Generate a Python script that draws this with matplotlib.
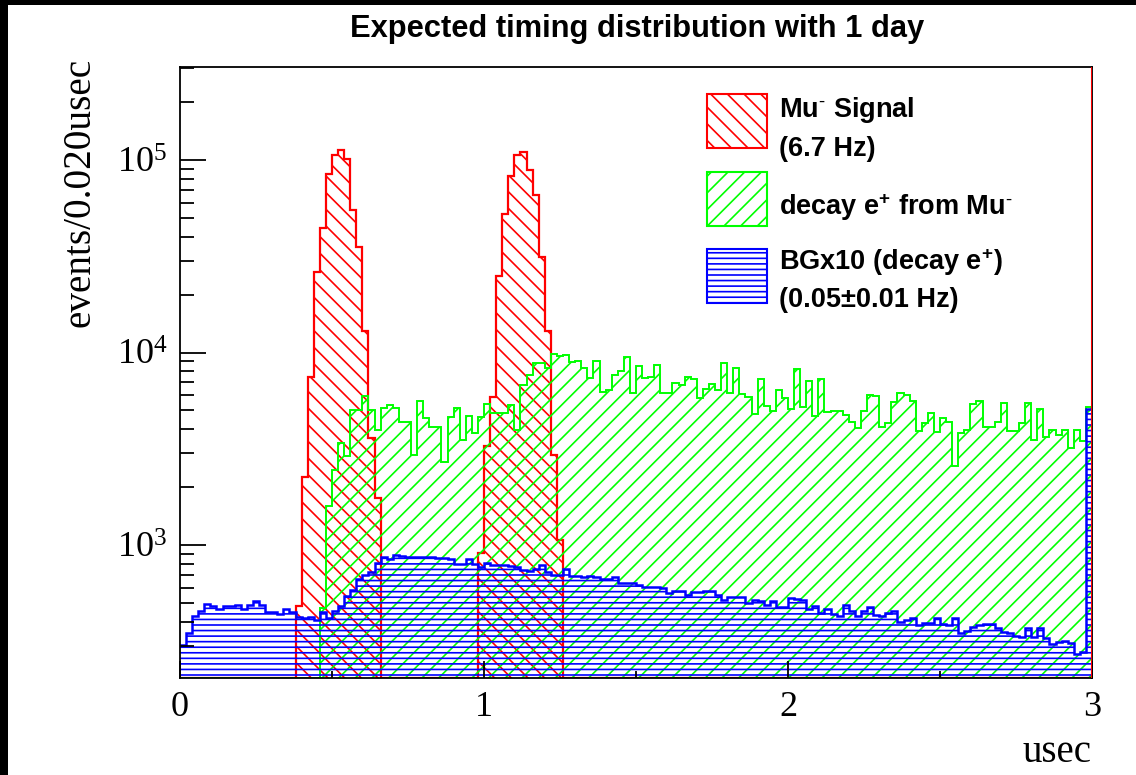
import numpy as np
import matplotlib
matplotlib.use('Agg')
import matplotlib.pyplot as plt
from matplotlib.patches import Rectangle
from matplotlib.ticker import FixedLocator, LogLocator, MultipleLocator, NullFormatter

# binning: 150 bins of 0.020 usec between 0 and 3 usec
BIN_WIDTH = 0.02
N_BINS = 150
edges = np.arange(N_BINS + 1) * BIN_WIDTH

# Mu- signal (red), two bunches
signal_peak1_start = 0.38
signal_peak1 = [480, 2265, 7430, 26300, 44500, 84300, 106000, 112700, 101000,
                55000, 35200, 12970, 3580, 1750]
signal_peak2_start = 0.98
signal_peak2 = [910, 3270, 5900, 24900, 52400, 82600, 106000, 110000, 88700,
                65800, 31200, 12970, 2935, 1060]

# decay e+ from Mu- (green), starts at 0.46 usec
decay_start = 0.46
decay_early = [470, 1600, 2450, 3400, 2900, 5000, 5000, 5950, 5000, 3960,
               5150, 5330, 5150, 4380, 4380, 2930, 5620, 4550, 4090, 4090,
               2710, 4610, 5150, 3510, 4700, 3800, 4600, 5400, 4870, 4870,
               4870, 5330, 3960, 6770, 7640, 8790, 8790, 8270, 9800, 9600,
               9700, 8970, 9000]
decay_mid = [8270, 7340, 9060, 6250, 6380, 7640, 8050, 9500, 6170, 8500,
             7340, 7430, 8610, 6170, 6130, 6970, 6770, 7430, 7250, 5780,
             6440, 6860, 6380, 8800, 6170, 8350, 6080, 5890, 4790, 7250,
             5270, 4980, 6380, 5780, 5120, 8200, 5240, 7100, 4680, 7250,
             4930, 4980]
decay_late = [4980, 4730, 4380, 4040, 4980, 6000, 5950, 4090, 4280, 5550,
              6130, 6000, 5620, 3920, 4280, 4870, 3880, 4550, 4380, 2570,
              3830, 3960, 5400, 5620, 4090, 4090, 4380, 5490, 3920, 3920,
              4280, 5490, 3510, 5120, 3620, 3960, 3720, 3960, 3210, 3960,
              3480, 5190]

# background x10 (blue), all 150 bins
bg_first = [302, 350, 428, 456, 494, 480, 468, 480, 484, 488,
            468, 488, 514, 488, 450, 450, 438, 463, 450, 421,
            418, 421, 408, 450, 418, 456, 480, 543, 583, 663,
            698, 727, 809, 863, 843, 887, 873, 863, 870, 863,
            870, 863, 858, 858, 843, 797, 797, 850, 797, 772,
            808, 785, 785, 785, 780, 772, 742, 735, 750, 785,
            727, 698, 698, 750, 690, 690, 680, 690, 680, 663,
            663, 680, 637, 637]
bg_second = [633, 620, 608, 608, 608, 596, 561, 578, 578, 550,
             573, 569, 578, 578, 550, 518, 539, 535, 535, 498,
             518, 514, 488, 510, 479, 478, 528, 523, 518, 463,
             483, 442, 467, 439, 428, 488, 457, 428, 457, 479,
             433, 428, 445, 457, 400, 407, 420, 384, 392, 395,
             416, 390, 384, 420, 350, 360, 375, 384, 390, 390,
             370, 355, 349, 337, 334, 372, 334, 372, 328, 306,
             315, 318, 309, 272, 279, 5120]

YMIN, YMAX = 204, 3.04e5

def place(start, vals):
    h = np.zeros(N_BINS)
    i = int(round(start / BIN_WIDTH))
    h[i:i + len(vals)] = vals
    return h

signal = place(signal_peak1_start, signal_peak1) + place(signal_peak2_start, signal_peak2)
decay = place(decay_start, decay_early + decay_mid + decay_late)
bg = np.array(bg_first + bg_second, dtype=float)

RED, GREEN, BLUE = '#ff0000', '#00ff00', '#0000ff'

plt.rcParams['hatch.linewidth'] = 1.2
plt.rcParams['mathtext.fontset'] = 'stix'

fig = plt.figure(figsize=(11.36, 7.75), dpi=100, facecolor='black')
fig.add_artist(Rectangle((8 / 1136, 0), 1 - 8 / 1136, 1 - 5 / 775,
                         transform=fig.transFigure, facecolor='white',
                         edgecolor='none', zorder=-5))

ax = fig.add_axes([180 / 1136, 1 - 678 / 775, 912 / 1136, 611 / 775])
ax.set_yscale('log')

hists = [(signal, RED, '\\\\', 1.6),
         (decay, GREEN, '//', 1.4),
         (bg, BLUE, '---', 1.8)]
for h, col, hatch, lw in hists:
    vals = np.clip(h, YMIN * 0.999, None)
    ax.stairs(vals, edges, baseline=YMIN * 0.999, fill=True, facecolor='none',
              edgecolor=col, hatch=hatch, linewidth=0)
    ax.stairs(vals, edges, baseline=None, color=col, linewidth=lw)

ax.axvline(3, color=RED, lw=1.5, zorder=4)

ax.set_xlim(0, 3)
ax.set_ylim(YMIN, YMAX)

ax.xaxis.set_major_locator(MultipleLocator(1))
ax.xaxis.set_minor_locator(MultipleLocator(0.5))
ax.yaxis.set_major_locator(FixedLocator([1e3, 1e4, 1e5]))
ax.yaxis.set_minor_locator(LogLocator(base=10, subs=np.arange(2, 10)))
ax.yaxis.set_minor_formatter(NullFormatter())
ax.yaxis.set_major_formatter(plt.FuncFormatter(
    lambda v, p: r'$\mathregular{10^{%d}}$' % round(np.log10(v))))

ax.tick_params(which='both', direction='in', top=False, right=False, width=1.3)
ax.tick_params(axis='x', which='major', length=12, pad=9)
ax.tick_params(axis='x', which='minor', length=5)
ax.tick_params(axis='y', which='major', length=19, pad=9)
ax.tick_params(axis='y', which='minor', length=10)
for lab in ax.get_xticklabels() + ax.get_yticklabels():
    lab.set_fontfamily('Liberation Serif')
    lab.set_fontsize(26)
for sp in ax.spines.values():
    sp.set_linewidth(1.3)

fig.text(637 / 1136, 1 - 29 / 775, 'Expected timing distribution with 1 day',
         ha='center', va='center', fontsize=22.2, fontweight='bold',
         family='Liberation Sans')
fig.text(80 / 1136, 1 - 58 / 775, 'events/0.020usec', rotation=90,
         ha='center', va='top', fontsize=28.3, family='Liberation Serif')
fig.text(1092 / 1136, 1 - 762 / 775, 'usec', ha='right', va='baseline',
         fontsize=28, family='Liberation Serif')

# legend drawn by hand
legend_keys = [(RED, '\\\\', 94), (GREEN, '//', 172), (BLUE, '---', 249)]
for col, hatch, top in legend_keys:
    fig.add_artist(Rectangle((707 / 1136, 1 - (top + 54) / 775), 60 / 1136, 54 / 775,
                             transform=fig.transFigure, facecolor='white',
                             edgecolor=col, hatch=hatch, linewidth=1.5))

SUP_MINUS = r'$\mathregular{^{\text{-}}}$'
SUP_PLUS = r'$\mathregular{^{+}}$'
legend_lines = [('Mu' + SUP_MINUS + ' Signal', 117),
                ('(6.7 Hz)', 156),
                ('decay e' + SUP_PLUS + ' from Mu' + SUP_MINUS, 215),
                ('BGx10 (decay e' + SUP_PLUS + ')', 270),
                ('(0.05\u00b10.01 Hz)', 307)]
for txt, base in legend_lines:
    fig.text(779 / 1136, 1 - base / 775, txt, ha='left', va='baseline',
             fontsize=19.5, fontweight='bold', family='Liberation Sans')

fig.savefig('out.png', dpi=100, facecolor=fig.get_facecolor())
